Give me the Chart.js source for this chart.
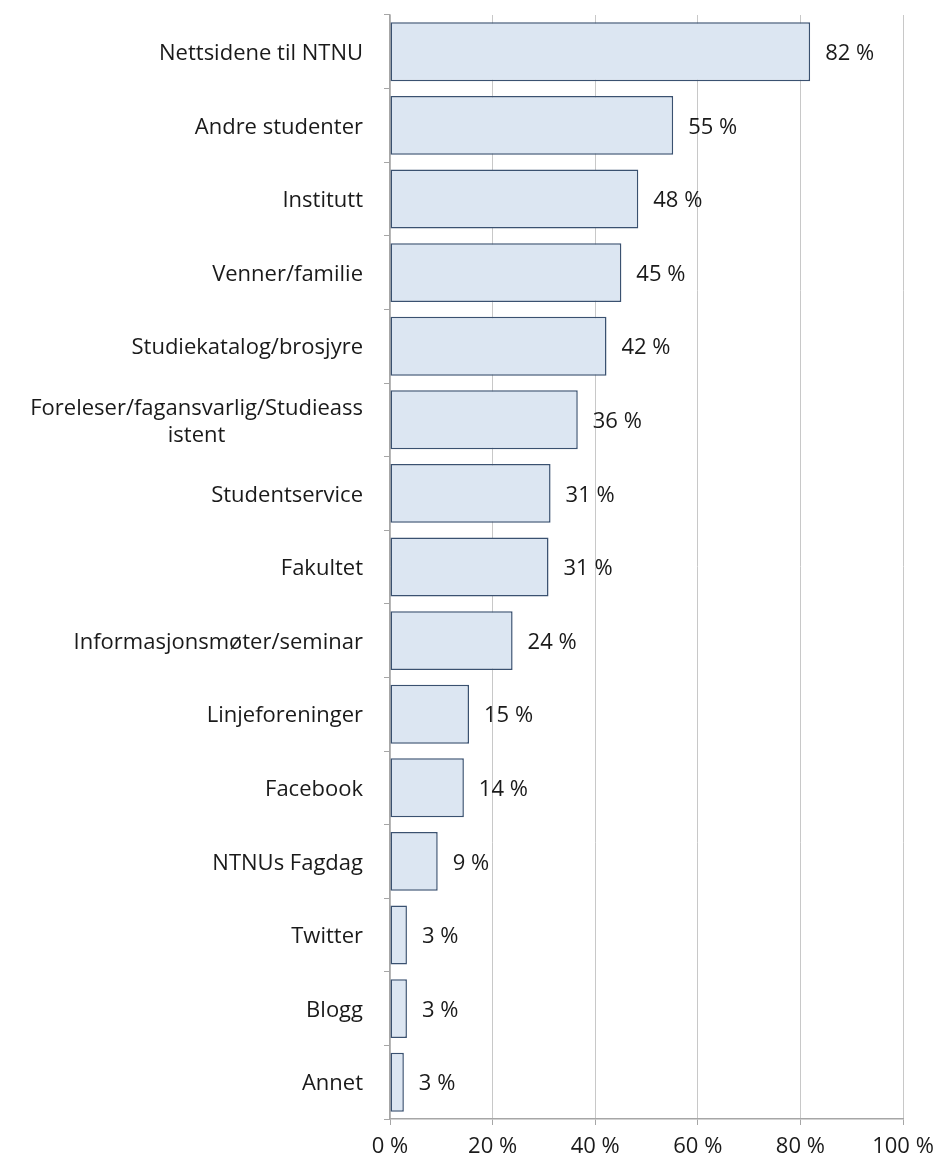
<!DOCTYPE html>
<html>
<head>
<meta charset="utf-8">
<script src="https://cdn.jsdelivr.net/npm/chart.js@4/dist/chart.umd.min.js"></script>
<style>
  html, body { margin: 0; padding: 0; background: #fff; }
  #wrap { width: 939px; height: 1164px; }
</style>
</head>
<body>
<div id="wrap"><canvas id="myChart" width="939" height="1164"></canvas></div>
<script>
const categories = [
  "Nettsidene til NTNU",
  "Andre studenter",
  "Institutt",
  "Venner/familie",
  "Studiekatalog/brosjyre",
  ["Foreleser/fagansvarlig/Studieass", "istent"],
  "Studentservice",
  "Fakultet",
  "Informasjonsmøter/seminar",
  "Linjeforeninger",
  "Facebook",
  "NTNUs Fagdag",
  "Twitter",
  "Blogg",
  "Annet"
];
const values = [81.9, 55.2, 48.4, 45.1, 42.2, 36.6, 31.3, 30.9, 23.9, 15.4, 14.4, 9.3, 3.3, 3.3, 2.7];
const valueLabels = ["82 %", "55 %", "48 %", "45 %", "42 %", "36 %", "31 %", "31 %", "24 %", "15 %", "14 %", "9 %", "3 %", "3 %", "3 %"];
const xTicks = [0, 20, 40, 60, 80, 100];

const FONT = "'Open Sans', Lato, sans-serif";
const SIZE = 22;
const TEXT = "#1a1a1a";

// value labels right of each bar
const barLabels = {
  id: "barLabels",
  afterDatasetsDraw(chart) {
    const ctx = chart.ctx;
    const meta = chart.getDatasetMeta(0);
    ctx.save();
    ctx.font = SIZE + "px " + FONT;
    ctx.fillStyle = TEXT;
    ctx.textAlign = "left";
    ctx.textBaseline = "middle";
    meta.data.forEach((bar, i) => {
      ctx.fillText(valueLabels[i], bar.x + 15, bar.y + 2);
    });
    ctx.restore();
  }
};

// category labels, wrapped lines centred like the original
const catLabels = {
  id: "catLabels",
  afterDraw(chart) {
    const ctx = chart.ctx;
    const y = chart.scales.y;
    const right = chart.chartArea.left - 27;
    ctx.save();
    ctx.font = SIZE + "px " + FONT;
    ctx.fillStyle = TEXT;
    ctx.textBaseline = "middle";
    categories.forEach((lab, i) => {
      const lines = Array.isArray(lab) ? lab : [lab];
      const cy = y.getPixelForTick(i) + 2;
      const lh = 27;
      const w = Math.max(...lines.map(l => ctx.measureText(l).width));
      const cx = right - w / 2;
      ctx.textAlign = "center";
      lines.forEach((l, k) => {
        ctx.fillText(l, cx, cy + (k - (lines.length - 1) / 2) * lh);
      });
    });
    ctx.restore();
  }
};

new Chart(document.getElementById("myChart").getContext("2d"), {
  type: "bar",
  data: {
    labels: categories,
    datasets: [{
      data: values,
      backgroundColor: "#dce6f2",
      borderColor: "#3a5170",
      borderWidth: 1.5,
      borderSkipped: false,
      barPercentage: 0.8,
      categoryPercentage: 1
    }]
  },
  options: {
    indexAxis: "y",
    responsive: false,
    animation: false,
    layout: { padding: { top: 15, right: 36, bottom: 0, left: 0 } },
    plugins: { legend: { display: false }, tooltip: { enabled: false } },
    scales: {
      x: {
        min: 0,
        max: 100,
        afterBuildTicks: (s) => { s.ticks = xTicks.map(v => ({ value: v })); },
        afterFit: (s) => { s.height = 45; s.paddingLeft = 0; s.paddingRight = 0; },
        ticks: {
          callback: (v) => v + " %",
          font: { size: SIZE, family: FONT },
          color: TEXT,
          padding: 9,
          maxRotation: 0
        },
        grid: { color: "#c8c8c8", lineWidth: 1, tickLength: 6, tickColor: "#a6a6a6" },
        border: { color: "#a6a6a6", width: 1.5 }
      },
      y: {
        afterFit: (s) => { s.width = 390; },
        ticks: { display: false },
        grid: { drawOnChartArea: false, tickLength: 6, color: "#a6a6a6", offset: true },
        border: { color: "#a6a6a6", width: 1.5 }
      }
    }
  },
  plugins: [barLabels, catLabels]
});
</script>
</body>
</html>
